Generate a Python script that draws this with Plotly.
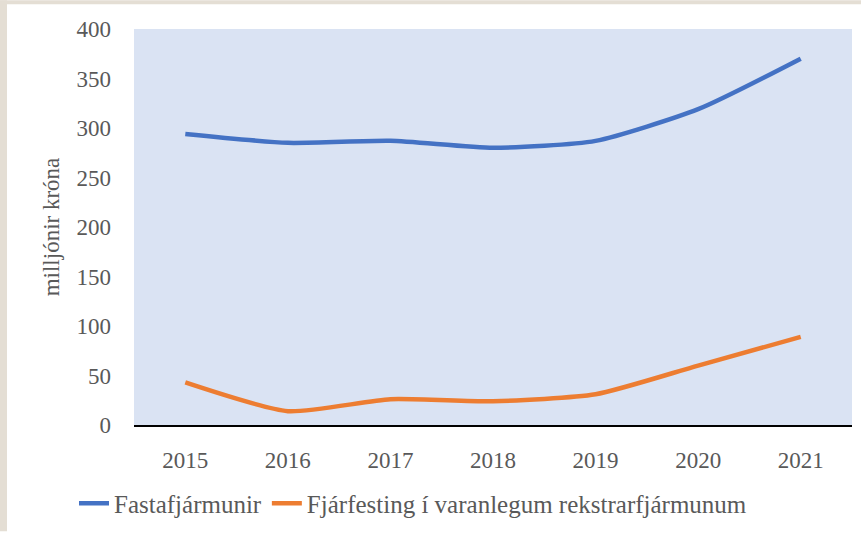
import plotly.graph_objects as go

years = ["2015", "2016", "2017", "2018", "2019", "2020", "2021"]
fastafjarmunir = [294, 285, 287, 280, 287, 319, 370]
fjarfesting = [43, 14, 26, 24, 31, 60, 89]
y_ticks = [0, 50, 100, 150, 200, 250, 300, 350, 400]

W, H = 861, 535
L, R, T, B = 134, 9, 29, 107
pw = W - L - R
ph = H - T - B

font_color = "#595959"
ffam = "Liberation Serif"
FS = 23

fig = go.Figure()
fig.add_trace(go.Scatter(x=years, y=fastafjarmunir, mode="lines", name="Fastafjármunir",
                         line=dict(color="#4472C4", width=4.5, shape="spline", smoothing=0.6)))
fig.add_trace(go.Scatter(x=years, y=fjarfesting, mode="lines",
                         name="Fjárfesting í varanlegum rekstrarfjármunum",
                         line=dict(color="#ED7D31", width=4.5, shape="spline", smoothing=0.6)))

def px_x(p):
    return (p - L) / pw

def px_y(p):
    return (H - B - p) / ph

beige = "#E4DED4"
# frame strips (top and left)
fig.add_shape(type="rect", xref="paper", yref="paper", x0=px_x(0), x1=px_x(7),
              y0=px_y(H), y1=px_y(0), fillcolor=beige, line_width=0, layer="below")
fig.add_shape(type="rect", xref="paper", yref="paper", x0=px_x(0), x1=px_x(W),
              y0=px_y(4), y1=px_y(0), fillcolor=beige, line_width=0, layer="below")

fig.update_layout(
    width=W, height=H,
    margin=dict(l=L, r=R, t=T, b=B, pad=0),
    paper_bgcolor="white",
    plot_bgcolor="#DAE3F3",
    font=dict(family=ffam, size=FS, color=font_color),
    showlegend=True,
    legend=dict(orientation="h", x=px_x(74), xanchor="left", y=px_y(507), yanchor="middle",
                font=dict(family=ffam, size=25, color=font_color), bgcolor="rgba(0,0,0,0)",
                itemwidth=30, tracegroupgap=0),
    xaxis=dict(type="category", range=[-0.5, 6.5], showgrid=False, zeroline=False,
               showline=True, linecolor="black", linewidth=1.5,
               ticks="", ticklabelstandoff=14,
               tickfont=dict(family=ffam, size=FS, color=font_color)),
    yaxis=dict(range=[0, 400], tickvals=y_ticks, showgrid=False, zeroline=False,
               showline=False, ticks="", ticklabelstandoff=22,
               tickfont=dict(family=ffam, size=FS, color=font_color),
               title=dict(text="milljónir króna",
                          font=dict(family=ffam, size=FS, color=font_color),
                          standoff=10)),
)

fig.write_html("out.html", config={"displayModeBar": False},
               post_script="document.body.style.margin='0px';")
